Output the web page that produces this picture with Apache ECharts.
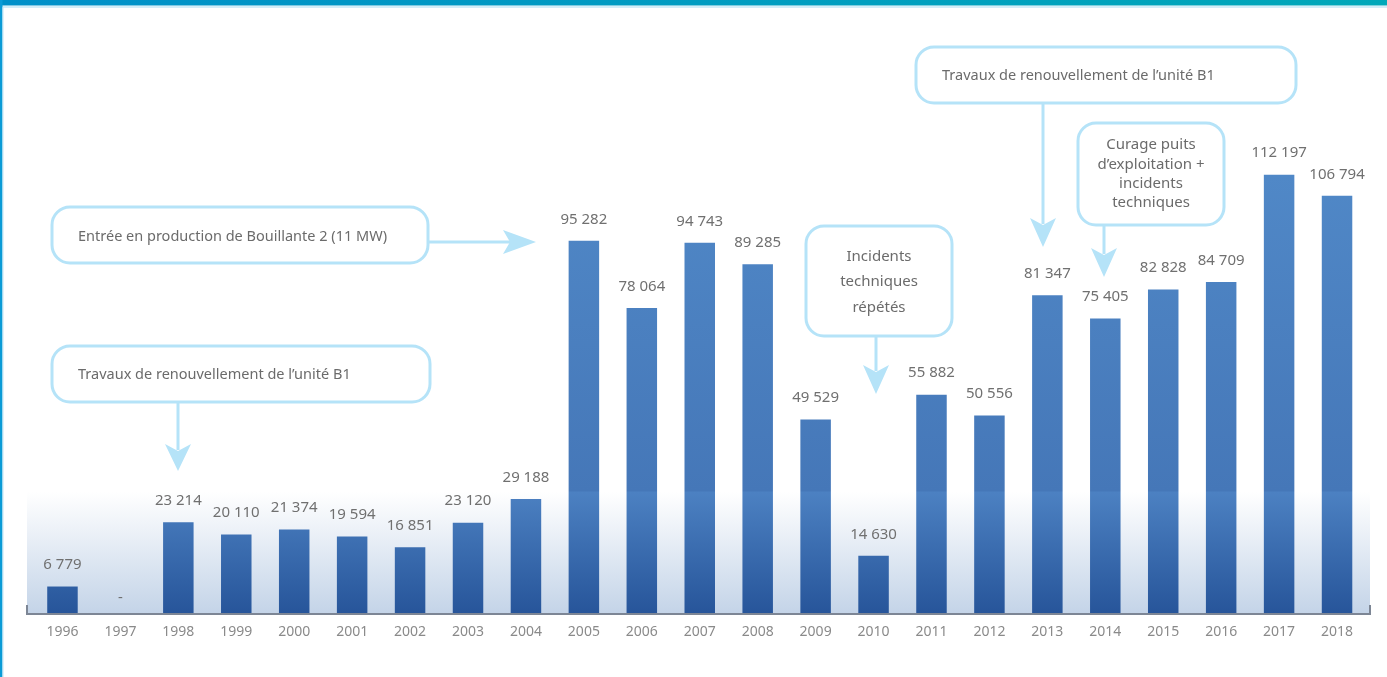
<!DOCTYPE html>
<html>
<head>
<meta charset="utf-8">
<script src="https://cdn.jsdelivr.net/npm/echarts@6/dist/echarts.min.js"></script>
<style>
html,body{margin:0;padding:0;background:#fff;}
#chart{width:1387px;height:677px;}
</style>
</head>
<body>
<div id="chart"></div>
<script>
const years = ['1996','1997','1998','1999','2000','2001','2002','2003','2004','2005','2006','2007','2008','2009','2010','2011','2012','2013','2014','2015','2016','2017','2018'];
const production = [6779, null, 23214, 20110, 21374, 19594, 16851, 23120, 29188, 95282, 78064, 94743, 89285, 49529, 14630, 55882, 50556, 81347, 75405, 82828, 84709, 112197, 106794];

const FONT = '"Noto Sans", "Open Sans", sans-serif';
const TXT = '#6b6b6b';
const BOX = '#b5e3f8';

function fmt(v){ return String(v).replace(/\B(?=(\d{3})+(?!\d))/g, ' '); }

const BASE = 613;

const barColor = {
  type: 'linear', global: true, x: 0, y: 175, x2: 0, y2: BASE,
  colorStops: [
    {offset: 0, color: '#5088c7'},
    {offset: 0.7215, color: '#4577b8'},
    {offset: 0.7237, color: '#4c81c2'},
    {offset: 1, color: '#27559a'}
  ]
};

function box(x, y, w, h, text, opts) {
  opts = opts || {};
  const els = [{
    type: 'rect', shape: {x: x, y: y, width: w, height: h, r: 18},
    style: {fill: '#fff', stroke: BOX, lineWidth: 3}, z: 10
  }];
  els.push({
    type: 'text', z: 11,
    style: {
      x: opts.center ? x + w / 2 : x + 26,
      y: opts.ty !== undefined ? opts.ty : y + h / 2 + 1,
      text: text, fill: TXT, font: (opts.fs || 14.5) + 'px ' + FONT,
      textAlign: opts.center ? 'center' : 'left', textVerticalAlign: 'middle',
      lineHeight: opts.lh || 18
    }
  });
  return els;
}

function arrowDown(x, y1, headTop, tip) {
  return [
    {type: 'line', z: 9, shape: {x1: x, y1: y1, x2: x, y2: headTop + 6}, style: {stroke: BOX, lineWidth: 3}},
    {type: 'polygon', z: 9, shape: {points: [[x - 13, headTop], [x, tip], [x + 13, headTop], [x, headTop + 7]]}, style: {fill: BOX}}
  ];
}

const graphics = [].concat(
  [{
    type: 'rect', shape: {x: 0, y: 0, width: 1387, height: 5.5},
    style: {fill: {type: 'linear', x: 0, y: 0, x2: 1, y2: 0, colorStops: [{offset: 0, color: '#0090c9'}, {offset: 1, color: '#00a8b9'}]}}, z: 1
  },
  {type: 'rect', shape: {x: 0, y: 6.5, width: 1387, height: 1}, style: {fill: '#a6dbf2'}, z: 1},
  {type: 'rect', shape: {x: 0, y: 0, width: 2.5, height: 677}, style: {fill: '#0b9bd6'}, z: 1},
  {type: 'rect', shape: {x: 2.5, y: 7, width: 1, height: 670}, style: {fill: '#bfe6f6'}, z: 1},
  {
    type: 'rect', shape: {x: 27, y: 492, width: 1343, height: BASE - 492},
    style: {fill: {type: 'linear', x: 0, y: 0, x2: 0, y2: 1, colorStops: [{offset: 0, color: '#ffffff'}, {offset: 1, color: '#c4d4e8'}]}}, z: 0
  },
  {type: 'polyline', z: 5, shape: {points: [[27, BASE - 8], [27, BASE + 1], [1370, BASE + 1], [1370, BASE - 8]]}, style: {stroke: '#7d8695', lineWidth: 2, fill: null}}
  ],
  box(52, 207, 376, 56, 'Entrée en production de Bouillante 2 (11 MW)', {ty: 237}),
  [
    {type: 'line', z: 9, shape: {x1: 428, y1: 242, x2: 512, y2: 242}, style: {stroke: BOX, lineWidth: 3}},
    {type: 'polygon', z: 9, shape: {points: [[503, 230], [536, 242], [503, 254], [510, 242]]}, style: {fill: BOX}}
  ],
  box(52, 346, 378, 56, 'Travaux de renouvellement de l\u2019unité B1', {ty: 375}),
  arrowDown(178, 403, 444, 471),
  box(806, 226, 146, 110, 'Incidents\ntechniques\nrépétés', {center: true, lh: 25.5, ty: 282, fs: 15}),
  arrowDown(876, 337, 365, 394),
  box(916, 47, 380, 56, 'Travaux de renouvellement de l\u2019unité B1', {ty: 76}),
  arrowDown(1043, 104, 218, 247),
  box(1078, 123, 146, 102, 'Curage puits\nd\u2019exploitation +\nincidents\ntechniques', {center: true, lh: 19.3, ty: 174, fs: 15}),
  arrowDown(1104, 226, 248, 277)
);

const chart = echarts.init(document.getElementById('chart'), null, {renderer: 'canvas'});
chart.setOption({
  animation: false,
  backgroundColor: '#fff',
  grid: {left: 33.5, right: 21, top: 27, bottom: 677 - BASE, containLabel: false},
  xAxis: {
    type: 'category', data: years,
    axisLine: {show: false}, axisTick: {show: false},
    axisLabel: {color: '#8a8a8a', fontSize: 14, fontFamily: FONT, margin: 12}
  },
  yAxis: {type: 'value', min: 0, max: 150000, show: false, splitLine: {show: false}},
  series: [{
    type: 'bar', barWidth: 30.5, z: 3,
    data: production.map(v => v === null ? {value: 0, label: {formatter: '-', offset: [0, 6]}} : v),
    itemStyle: {color: barColor},
    label: {
      show: true, position: 'top', distance: 14, color: '#707070', fontSize: 15, fontFamily: FONT,
      formatter: p => fmt(p.value)
    }
  }],
  graphic: graphics
});
</script>
</body>
</html>
